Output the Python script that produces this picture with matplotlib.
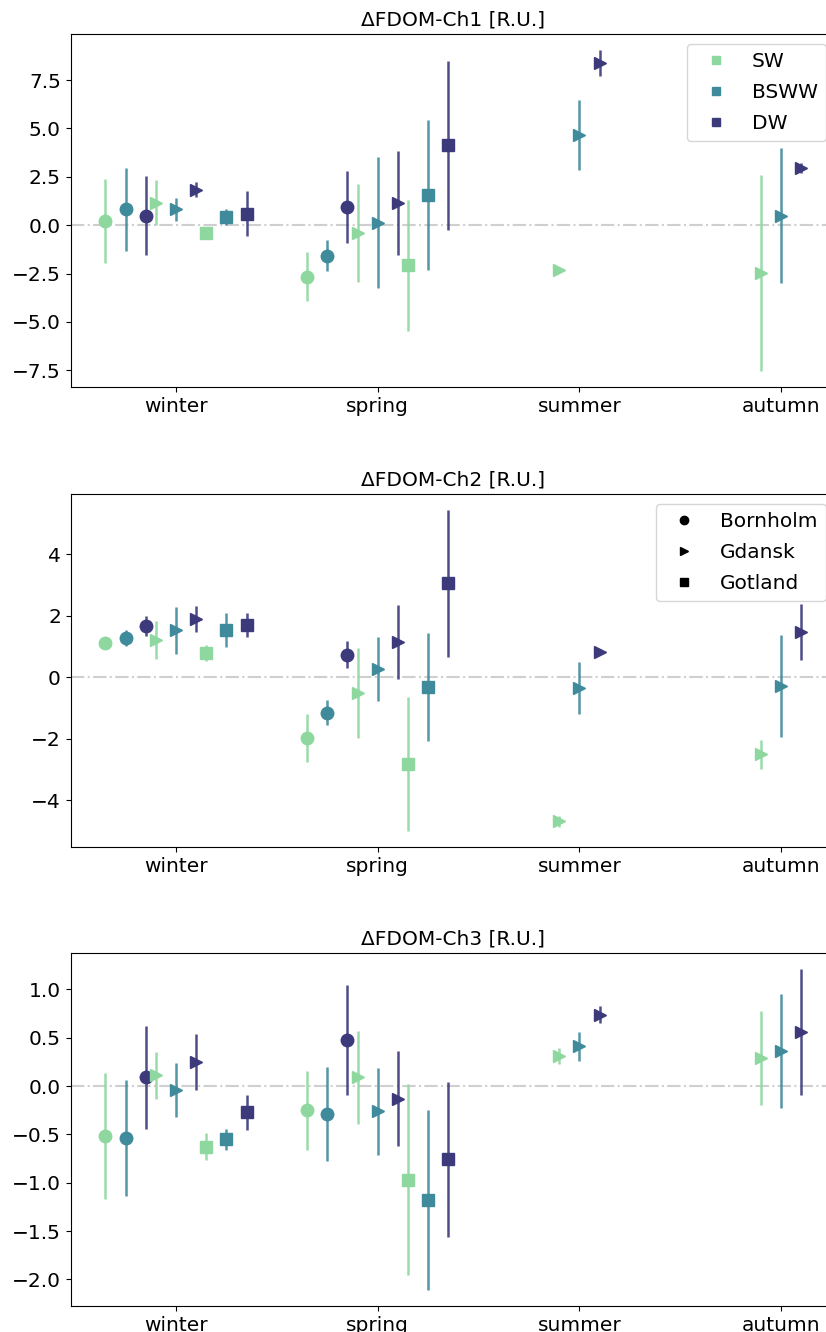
import numpy as np
import matplotlib
matplotlib.use("Agg")
import matplotlib.pyplot as plt
from matplotlib.lines import Line2D

seasons = ["winter", "spring", "summer", "autumn"]
stations = ["Bornholm", "Gdansk", "Gotland"]
waters = ["SW", "BSWW", "DW"]
titles = ["ΔFDOM-Ch1 [R.U.]", "ΔFDOM-Ch2 [R.U.]", "ΔFDOM-Ch3 [R.U.]"]

nan = np.nan

# mean / std per station -> water type -> season
ch1_mean = {
    "Bornholm": {"SW": [0.24, -2.67, nan, nan], "BSWW": [0.81, -1.57, nan, nan], "DW": [0.48, 0.95, nan, nan]},
    "Gdansk": {"SW": [1.17, -0.41, -2.32, -2.46], "BSWW": [0.81, 0.12, 4.67, 0.48], "DW": [1.83, 1.14, 8.39, 2.94]},
    "Gotland": {"SW": [-0.40, -2.08, nan, nan], "BSWW": [0.41, 1.55, nan, nan], "DW": [0.59, 4.12, nan, nan]},
}
ch1_sd = {
    "Bornholm": {"SW": [2.17, 1.26, nan, nan], "BSWW": [2.12, 0.81, nan, nan], "DW": [2.04, 1.87, nan, nan]},
    "Gdansk": {"SW": [1.16, 2.55, 0.10, 5.07], "BSWW": [0.57, 3.38, 1.80, 3.49], "DW": [0.40, 2.70, 0.66, 0.26]},
    "Gotland": {"SW": [0.0, 3.40, nan, nan], "BSWW": [0.41, 3.86, nan, nan], "DW": [1.17, 4.35, nan, nan]},
}

ch2_mean = {
    "Bornholm": {"SW": [1.12, -1.98, nan, nan], "BSWW": [1.27, -1.15, nan, nan], "DW": [1.66, 0.73, nan, nan]},
    "Gdansk": {"SW": [1.21, -0.51, -4.69, -2.51], "BSWW": [1.52, 0.25, -0.35, -0.28], "DW": [1.89, 1.15, 0.82, 1.46]},
    "Gotland": {"SW": [0.78, -2.82, nan, nan], "BSWW": [1.53, -0.31, nan, nan], "DW": [1.69, 3.05, nan, nan]},
}
ch2_sd = {
    "Bornholm": {"SW": [0.0, 0.79, nan, nan], "BSWW": [0.27, 0.40, nan, nan], "DW": [0.32, 0.43, nan, nan]},
    "Gdansk": {"SW": [0.63, 1.46, 0.18, 0.46], "BSWW": [0.76, 1.04, 0.85, 1.66], "DW": [0.42, 1.20, 0.0, 0.91]},
    "Gotland": {"SW": [0.27, 2.18, nan, nan], "BSWW": [0.54, 1.75, nan, nan], "DW": [0.40, 2.38, nan, nan]},
}

ch3_mean = {
    "Bornholm": {"SW": [-0.52, -0.25, nan, nan], "BSWW": [-0.54, -0.29, nan, nan], "DW": [0.09, 0.48, nan, nan]},
    "Gdansk": {"SW": [0.11, 0.09, 0.31, 0.29], "BSWW": [-0.04, -0.26, 0.41, 0.36], "DW": [0.25, -0.13, 0.74, 0.56]},
    "Gotland": {"SW": [-0.63, -0.97, nan, nan], "BSWW": [-0.55, -1.18, nan, nan], "DW": [-0.27, -0.76, nan, nan]},
}
ch3_sd = {
    "Bornholm": {"SW": [0.65, 0.41, nan, nan], "BSWW": [0.60, 0.49, nan, nan], "DW": [0.53, 0.57, nan, nan]},
    "Gdansk": {"SW": [0.24, 0.48, 0.08, 0.49], "BSWW": [0.28, 0.45, 0.15, 0.59], "DW": [0.29, 0.49, 0.09, 0.65]},
    "Gotland": {"SW": [0.14, 0.99, nan, nan], "BSWW": [0.11, 0.93, nan, nan], "DW": [0.18, 0.80, nan, nan]},
}

colors = {"SW": "#8ed8a0", "BSWW": "#408b9b", "DW": "#3c3a7a"}
markers = {"Bornholm": "o", "Gdansk": ">", "Gotland": "s"}
station_shift = {"Bornholm": -0.25, "Gdansk": 0.0, "Gotland": 0.25}
water_shift = {"SW": -0.1, "BSWW": 0.0, "DW": 0.1}

plt.rcParams["font.size"] = 14.5

fig = plt.figure(figsize=(8.26, 13.32), dpi=100)
bottoms = [0.7095, 0.3641, 0.0195]
axes = [fig.add_axes([0.0856, b, 0.9265, 0.265]) for b in bottoms]

x = np.arange(len(seasons))
for ax, title, means, sds in zip(axes, titles, [ch1_mean, ch2_mean, ch3_mean], [ch1_sd, ch2_sd, ch3_sd]):
    ax.axhline(0, color="#cfcfcf", linestyle="-.", linewidth=1.5, zorder=1)
    for st in stations:
        for w in waters:
            xs = x + station_shift[st] + water_shift[w]
            _, _, bars = ax.errorbar(xs, means[st][w], yerr=sds[st][w], fmt=markers[st], color=colors[w],
                                     ms=9 if markers[st] != "s" else 8, elinewidth=1.8, capsize=0,
                                     ecolor=colors[w], zorder=3)
            for b in bars:
                b.set_alpha(0.9)
    ax.set_xticks(x)
    ax.set_xticklabels(seasons)
    ax.set_title(title, fontsize=14.5)

water_handles = [Line2D([], [], linestyle="none", marker="s", ms=6, color=colors[w], label=w) for w in waters]
axes[0].legend(handles=water_handles, loc="upper right", fontsize=14.5, labelspacing=0.6)

station_handles = [Line2D([], [], linestyle="none", marker=markers[s], ms=6, color="black", label=s) for s in stations]
axes[1].legend(handles=station_handles, loc="upper right", fontsize=14.5, labelspacing=0.6)

fig.savefig("out.png", dpi=100)
